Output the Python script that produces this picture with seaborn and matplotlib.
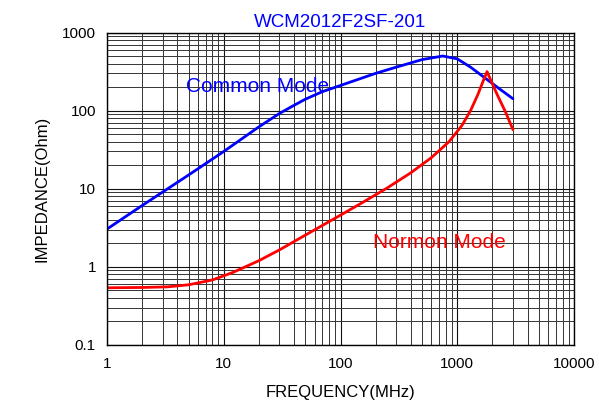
import matplotlib
matplotlib.use("Agg")
import matplotlib.pyplot as plt
import matplotlib.ticker as mticker
import seaborn as sns
import pandas as pd
import numpy as np

# ---- data ----
common_freq = [1, 2, 5, 10, 20, 30, 40, 50, 70, 100, 200, 300, 500, 750, 1000, 1300, 1800, 2300, 3000]
common_imp = [3.05, 6.1, 15, 30, 62, 92, 117, 140, 175, 210, 300, 360, 450, 500, 460, 360, 250, 190, 142]

normal_freq = [1, 2, 3.3, 5, 8, 12, 20, 30, 50, 85, 150, 250, 400, 600, 850, 1100, 1300,
               1500, 1650, 1800, 1950, 2200, 2600, 3000]
normal_imp = [0.54, 0.545, 0.555, 0.59, 0.68, 0.85, 1.2, 1.65, 2.55, 4.0, 6.5, 10.2, 16, 25,
              40, 65, 100, 160, 230, 316, 240, 160, 95, 57]

x_ticks = [1, 10, 100, 1000, 10000]
x_tick_labels = ["1", "10", "100", "1000", "10000"]
y_ticks = [0.1, 1, 10, 100, 1000]
y_tick_labels = ["0.1", "1", "10", "100", "1000"]

title = "WCM2012F2SF-201"
xlabel = "FREQUENCY(MHz)"
ylabel = "IMPEDANCE(Ohm)"
label_common = "Common Mode"
label_normal = "Normon Mode"

df = pd.concat([
    pd.DataFrame({"freq": common_freq, "imp": common_imp, "mode": label_common}),
    pd.DataFrame({"freq": normal_freq, "imp": normal_imp, "mode": label_normal}),
], ignore_index=True)

sns.set_style("white")
plt.rcParams["font.family"] = ["Liberation Sans", "DejaVu Sans"]

fig = plt.figure(figsize=(5.99, 4.01), dpi=100)
ax = fig.add_axes([107 / 599, 1 - 345 / 401, (574 - 107) / 599, (345 - 32.5) / 401])

sns.lineplot(data=df, x="freq", y="imp", hue="mode",
             palette={label_common: "#0000ff", label_normal: "#ff0000"},
             linewidth=2.0, legend=False, ax=ax, sort=False)

ax.set_xscale("log")
ax.set_yscale("log")
ax.set_xlim(1, 10000)
ax.set_ylim(0.1, 1000)

ax.set_xticks(x_ticks)
ax.set_xticklabels(x_tick_labels)
ax.set_yticks(y_ticks)
ax.set_yticklabels(y_tick_labels)
ax.xaxis.set_minor_locator(mticker.LogLocator(base=10, subs=np.arange(2, 10)))
ax.yaxis.set_minor_locator(mticker.LogLocator(base=10, subs=np.arange(2, 10)))
ax.xaxis.set_minor_formatter(mticker.NullFormatter())
ax.yaxis.set_minor_formatter(mticker.NullFormatter())

ax.grid(which="major", color="#111111", linewidth=0.8)
ax.grid(which="minor", color="#333333", linewidth=0.7)
ax.set_axisbelow(True)

ax.tick_params(axis="both", which="both", direction="in", length=0, labelsize=11, colors="black")
ax.tick_params(axis="x", pad=9)
ax.tick_params(axis="y", pad=8)

for s in ax.spines.values():
    s.set_visible(True)
    s.set_color("black")
    s.set_linewidth(1.0)

ax.set_xlabel(xlabel, fontsize=12, labelpad=10, color="black")
ax.set_ylabel(ylabel, fontsize=12, labelpad=9, color="black")
ax.set_title(title, fontsize=13.5, color="#0000ff", pad=4)

ax.text(4.75, 205, label_common, color="#0000ff", fontsize=15, ha="left", va="center")
ax.text(190, 2.03, label_normal, color="#ff0000", fontsize=15, ha="left", va="center")

fig.savefig("out.png", dpi=100)
